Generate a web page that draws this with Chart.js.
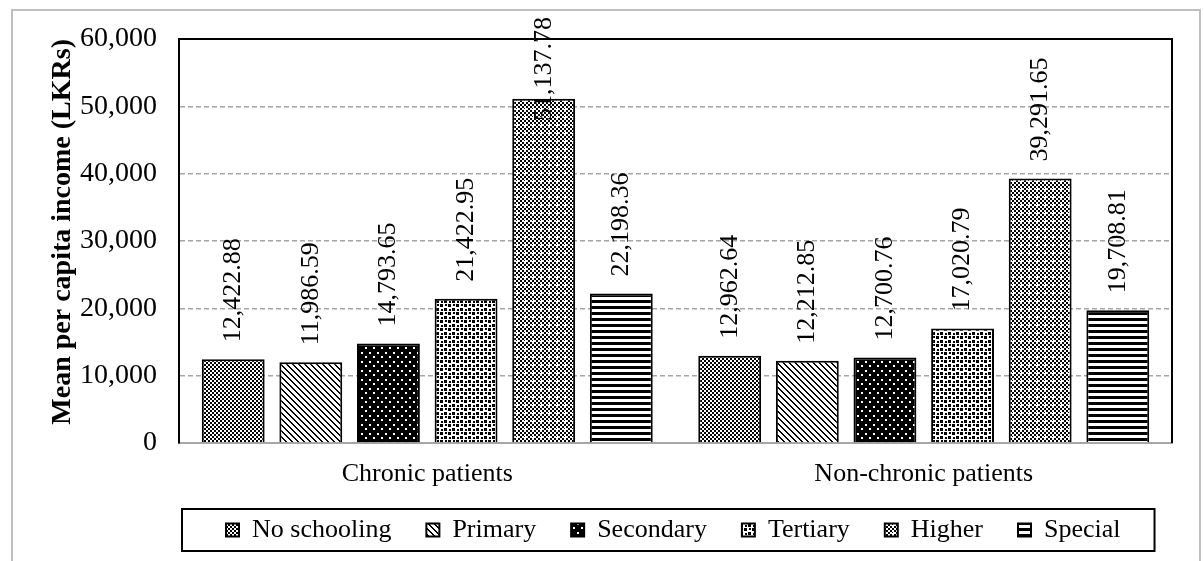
<!DOCTYPE html>
<html lang="en">
<head>
<meta charset="UTF-8">
<title>Mean per capita income</title>
<script src="https://cdn.jsdelivr.net/npm/chart.js"></script>
<style>
  body { margin: 0; background: #fff; }
</style>
</head>
<body>
<canvas id="chart" width="1204" height="561"></canvas>
<script>
var groups = ['Chronic patients', 'Non-chronic patients']
var levels = ['No schooling', 'Primary', 'Secondary', 'Tertiary', 'Higher', 'Special']
var noSchooling = [12422.88, 12962.64]
var primary = [11986.59, 12212.85]
var secondary = [14793.65, 12700.76]
var tertiary = [21422.95, 17020.79]
var higher = [51137.78, 39291.65]
var special = [22198.36, 19708.81]
var yTicks = [0, 10000, 20000, 30000, 40000, 50000, 60000]

var canvas = document.getElementById('chart')
var ctx = canvas.getContext('2d')

// small repeating tiles for the black & white fills
function tile(w, h, bg, draw) {
    var c = document.createElement('canvas')
    c.width = w
    c.height = h
    var g = c.getContext('2d')
    g.fillStyle = bg
    g.fillRect(0, 0, w, h)
    draw(g)
    return ctx.createPattern(c, 'repeat')
}

var fills = [
    tile(4, 4, '#fff', function (g) {
        g.fillStyle = '#000'
        g.fillRect(0, 0, 2, 2)
        g.fillRect(2, 2, 2, 2)
    }),
    tile(6, 6, '#fff', function (g) {
        g.fillStyle = '#000'
        for (var i = 0; i < 6; i++) {
            g.fillRect(i, i, 1, 1)
            g.fillRect((i + 1) % 6, i, 1, 1)
        }
    }),
    tile(8, 9, '#000', function (g) {
        g.fillStyle = '#fff'
        g.fillRect(1, 1, 2, 2)
        g.fillRect(5, 5, 2, 2)
    }),
    tile(8, 8, '#fff', function (g) {
        g.fillStyle = '#000'
        g.fillRect(0, 0, 3, 3)
        g.fillRect(4, 4, 3, 3)
        g.fillRect(5, 0, 2, 2)
        g.fillRect(1, 5, 2, 2)
    }),
    tile(8, 8, '#fff', function (g) {
        g.fillStyle = '#000'
        for (var x = 0; x < 8; x += 2)
            for (var y = 0; y < 8; y += 2)
                if ((x + y) % 4 == 0) g.fillRect(x, y, 2, 2)
        g.fillStyle = '#fff'
        g.fillRect(5, 3, 1, 5)
        g.fillRect(3, 5, 5, 1)
    }),
    tile(1, 6, '#fff', function (g) {
        g.fillStyle = '#000'
        g.fillRect(0, 0, 1, 3)
    })
]

var series = [noSchooling, primary, secondary, tertiary, higher, special]

function fmt(v) {
    return v.toLocaleString('en-US', {minimumFractionDigits: 2, maximumFractionDigits: 2})
}

var decor = {
    id: 'decor',
    afterUpdate: function (chart) {
        // park the legend row where it sits in the figure
        var L = chart.legend
        var boxes = L.legendHitBoxes
        if (!boxes || !boxes.length) return
        var dx = 226 - boxes[0].left
        var dy = 530 - (boxes[0].top + boxes[0].height / 2)
        L.left += dx
        L.right += dx
        L.top += dy
        L.bottom += dy
        boxes.forEach(function (b) {
            b.left += dx
            b.top += dy
        })
    },
    beforeDraw: function (chart) {
        var c = chart.ctx
        c.save()
        c.strokeStyle = '#bfbfbf'
        c.lineWidth = 2
        c.strokeRect(12, 10, 1188, 600)
        c.restore()
    },
    afterDatasetsDraw: function (chart) {
        var c = chart.ctx
        var a = chart.chartArea
        c.save()
        c.strokeStyle = '#000'
        c.lineWidth = 2
        c.beginPath()
        c.moveTo(a.left, a.bottom)
        c.lineTo(a.left, a.top)
        c.lineTo(a.right, a.top)
        c.lineTo(a.right, a.bottom)
        c.stroke()

        c.fillStyle = '#000'
        c.font = '26px "Liberation Serif"'
        c.textAlign = 'left'
        c.textBaseline = 'middle'
        chart.data.datasets.forEach(function (ds, i) {
            chart.getDatasetMeta(i).data.forEach(function (bar, j) {
                var txt = fmt(ds.data[j])
                var w = c.measureText(txt).width
                var start = Math.max(bar.y - 17, 17 + w)
                c.save()
                c.translate(bar.x, start)
                c.rotate(-Math.PI / 2)
                c.fillText(txt, 0, 0)
                c.restore()
            })
        })
        c.restore()
    },
    afterDraw: function (chart) {
        var boxes = chart.legend.legendHitBoxes
        if (!boxes || !boxes.length) return
        var first = boxes[0], last = boxes[boxes.length - 1]
        var mid = first.top + first.height / 2
        var c = chart.ctx
        c.save()
        c.strokeStyle = '#000'
        c.lineWidth = 2
        c.strokeRect(first.left - 44, mid - 21, last.left + last.width + 34 - (first.left - 44), 42)
        c.restore()
    }
}

Chart.defaults.font.family = '"Liberation Serif", "Times New Roman", serif'
Chart.defaults.color = '#000'

var chart = new Chart(canvas, {
    type: 'bar',
    data: {
        labels: groups,
        datasets: levels.map(function (name, i) {
            return {
                label: name,
                data: series[i],
                backgroundColor: fills[i],
                borderColor: '#000',
                borderWidth: 2,
                categoryPercentage: 0.938,
                barPercentage: 0.81
            }
        })
    },
    options: {
        responsive: false,
        animation: false,
        layout: {padding: {top: 39, right: 32, bottom: 0, left: 0}},
        plugins: {
            tooltip: {enabled: false},
            legend: {
                position: 'bottom',
                labels: {
                    font: {size: 26},
                    color: '#000',
                    boxWidth: 13,
                    boxHeight: 13,
                    padding: 35
                }
            }
        },
        scales: {
            x: {
                afterFit: function (s) { s.height = 561 - 443 - s.chart.legend.height },
                grid: {display: false, drawTicks: false},
                border: {color: '#a6a6a6', width: 2},
                ticks: {font: {size: 26, lineHeight: 1}, color: '#000', padding: 18}
            },
            y: {
                min: 0,
                max: 60000,
                afterFit: function (s) { s.width = 179 },
                afterBuildTicks: function (s) {
                    s.ticks = yTicks.map(function (v) { return {value: v} })
                },
                title: {
                    display: true,
                    text: 'Mean per capita income (LKRs)',
                    align: 'end',
                    font: {size: 28, weight: 'bold', lineHeight: 1},
                    color: '#000',
                    padding: {top: 49, bottom: 0}
                },
                ticks: {
                    font: {size: 28},
                    color: '#000',
                    padding: 22,
                    callback: function (v) { return v.toLocaleString('en-US') }
                },
                grid: {
                    drawTicks: false,
                    lineWidth: 1.5,
                    color: function (c) {
                        if (c.tick && (c.tick.value === 0 || c.tick.value === 60000)) return 'rgba(0,0,0,0)'
                        return '#a6a6a6'
                    }
                },
                border: {display: true, color: '#000', width: 2, dash: [5, 3]}
            }
        }
    },
    plugins: [decor]
})
</script>
</body>
</html>
